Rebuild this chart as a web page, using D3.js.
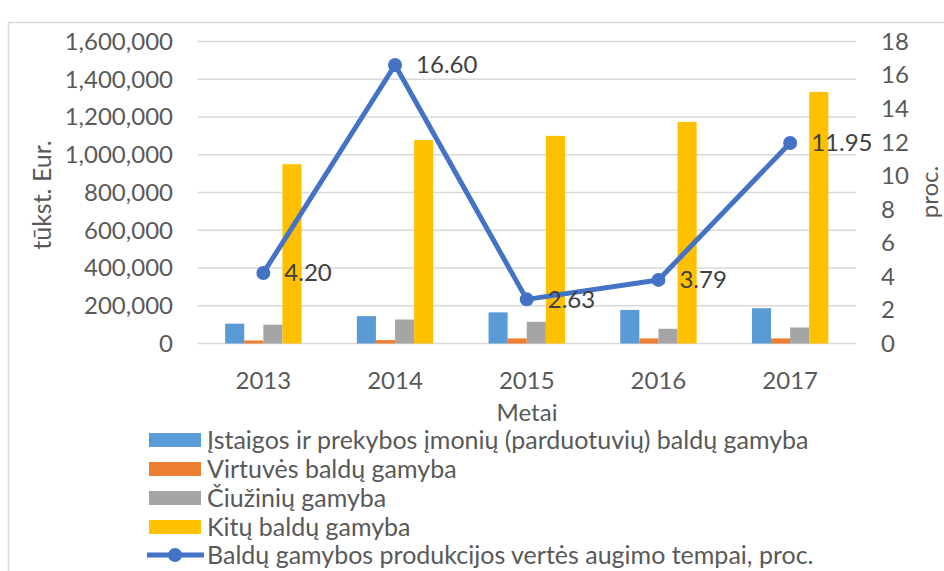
<!DOCTYPE html>
<html><head><meta charset="utf-8">
<script src="https://cdn.jsdelivr.net/npm/d3@7"></script>
<style>body{margin:0;background:#fff;} text{font-family:Lato,"Open Sans",sans-serif;}</style>
</head><body>
<svg id="c" width="944" height="571"></svg>
<script>
const years = ["2013","2014","2015","2016","2017"];
const seriesNames = ["Įstaigos ir prekybos įmonių (parduotuvių) baldų gamyba","Virtuvės baldų gamyba","Čiužinių gamyba","Kitų baldų gamyba"];
const istaigos = [105000,145000,165000,178000,187000];
const virtuves = [16000,18000,27000,27000,27000];
const ciuziniai = [100000,127000,115000,78000,85000];
const kitu = [950000,1078000,1100000,1174000,1333000];
const augimas = [4.20,16.60,2.63,3.79,11.95];
const lineName = "Baldų gamybos produkcijos vertės augimo tempai, proc.";
const leftTicks = [0,200000,400000,600000,800000,1000000,1200000,1400000,1600000];
const rightTicks = [0,2,4,6,8,10,12,14,16,18];
const colors = ["#5b9bd5","#ed7d31","#a5a5a5","#ffc000"];
const lineColor = "#4472c4";

const svg = d3.select("#c");
const L = 197.5, R = 856, T = 41.5, B = 343.5;
const fs = 24, fsL = 25;
const txt = "#595959";

svg.append("rect").attr("x",8.5).attr("y",22.5).attr("width",1000).attr("height",600)
  .attr("fill","none").attr("stroke","#d9d9d9").attr("stroke-width",1.5);

const x = d3.scaleBand().domain(years).range([L,R]).paddingInner(0.42).paddingOuter(0.21);
const xc = d3.scaleBand().domain(years).range([L,R]);
const y = d3.scaleLinear().domain([0,1600000]).range([B,T]);
const y2 = d3.scaleLinear().domain([0,18]).range([B,T]);

// gridlines
svg.append("g").selectAll("line").data(leftTicks).join("line")
  .attr("x1",L).attr("x2",R).attr("y1",d=>y(d)).attr("y2",d=>y(d))
  .attr("stroke","#d9d9d9").attr("stroke-width",1.5);

// left axis labels
const fmt = d3.format(",");
svg.append("g").selectAll("text").data(leftTicks).join("text")
  .attr("x",173).attr("y",d=>y(d)).attr("dy","0.35em").attr("text-anchor","end")
  .attr("font-size",fs).attr("fill",txt).text(d=>fmt(d));
// right axis labels
svg.append("g").selectAll("text").data(rightTicks).join("text")
  .attr("x",881).attr("y",d=>y2(d)).attr("dy","0.35em").attr("text-anchor","start")
  .attr("font-size",fs).attr("fill",txt).text(d=>d);
// x labels
svg.append("g").selectAll("text").data(years).join("text")
  .attr("x",d=>xc(d)+xc.bandwidth()/2).attr("y",381).attr("dy","0.35em").attr("text-anchor","middle")
  .attr("font-size",fs).attr("fill",txt).text(d=>d);
svg.append("text").attr("x",527).attr("y",413).attr("dy","0.35em").attr("text-anchor","middle")
  .attr("font-size",fs).attr("fill",txt).text("Metai");
svg.append("text").attr("transform","translate(42,195) rotate(-90)").attr("dy","0.35em").attr("text-anchor","middle")
  .attr("font-size",fsL).attr("fill",txt).text("tūkst. Eur.");
svg.append("text").attr("transform","translate(930,192) rotate(-90)").attr("dy","0.35em").attr("text-anchor","middle")
  .attr("font-size",fs).attr("fill",txt).text("proc.");

// bars
const data = [istaigos,virtuves,ciuziniai,kitu];
const xs = d3.scaleBand().domain([0,1,2,3]).range([0,x.bandwidth()]);
data.forEach((arr,si)=>{
  svg.append("g").selectAll("rect").data(arr).join("rect")
    .attr("x",(d,i)=>x(years[i])+xs(si)).attr("width",xs.bandwidth())
    .attr("y",d=>y(d)).attr("height",d=>B-y(d)).attr("fill",colors[si]);
});

// line
const px = (d,i)=>xc(years[i])+xc.bandwidth()/2;
svg.append("path").datum(augimas)
  .attr("d",d3.line().x(px).y(d=>y2(d)))
  .attr("fill","none").attr("stroke",lineColor).attr("stroke-width",5).attr("stroke-linejoin","round");
svg.append("g").selectAll("circle").data(augimas).join("circle")
  .attr("cx",px).attr("cy",d=>y2(d)).attr("r",7).attr("fill",lineColor);
svg.append("g").selectAll("text").data(augimas).join("text")
  .attr("x",(d,i)=>px(d,i)+21).attr("y",d=>y2(d)).attr("dy","0.35em")
  .attr("font-size",fs).attr("fill","#404040").text(d=>d.toFixed(2));

// legend
const lg = svg.append("g");
const rows = [440,469,498,527,555];
seriesNames.forEach((n,i)=>{
  lg.append("rect").attr("x",149).attr("y",rows[i]-7).attr("width",52).attr("height",14).attr("fill",colors[i]);
  lg.append("text").attr("x",207).attr("y",rows[i]).attr("dy","0.35em").attr("font-size",fsL).attr("fill",txt).text(n);
});
lg.append("line").attr("x1",147).attr("x2",204).attr("y1",rows[4]).attr("y2",rows[4]).attr("stroke",lineColor).attr("stroke-width",5);
lg.append("circle").attr("cx",175).attr("cy",rows[4]).attr("r",7).attr("fill",lineColor);
lg.append("text").attr("x",207).attr("y",rows[4]).attr("dy","0.35em").attr("font-size",fsL).attr("fill",txt).text(lineName);
</script>
</body></html>
